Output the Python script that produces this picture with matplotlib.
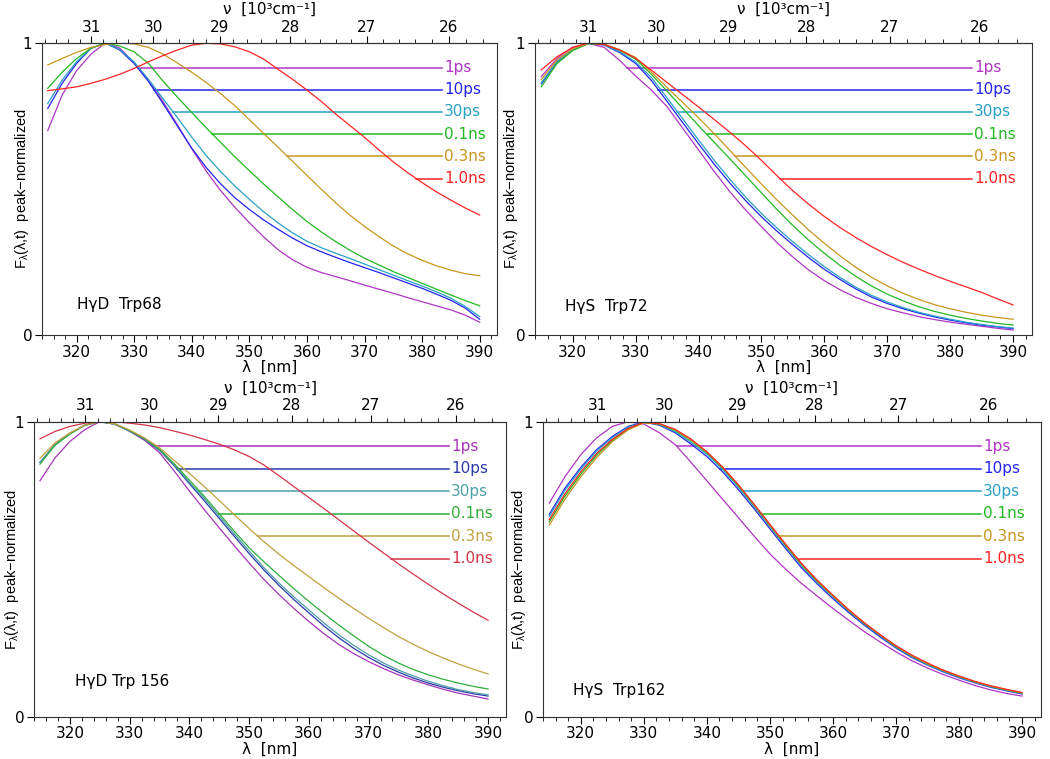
import numpy as np
import matplotlib
matplotlib.use("Agg")
import matplotlib.pyplot as plt
from matplotlib.ticker import MultipleLocator

plt.rcParams['font.family'] = ['DejaVu Sans']
plt.rcParams['mathtext.fontset'] = 'custom'
plt.rcParams['mathtext.rm'] = 'Liberation Sans'
plt.rcParams['mathtext.it'] = 'Liberation Sans:italic'
plt.rcParams['mathtext.default'] = 'regular'
plt.rcParams['font.size'] = 11

# wavelength grid (nm)
wl = [315, 317.5, 320, 322.5, 325, 327.5, 330, 332.5, 335, 337.5, 340, 342.5, 345,
      347.5, 350, 352.5, 355, 357.5, 360, 362.5, 365, 367.5, 370, 372.5, 375, 377.5,
      380, 382.5, 385, 387.5, 390]

times = ["1ps", "10ps", "30ps", "0.1ns", "0.3ns", "1.0ns"]
levels = [0.916, 0.840, 0.765, 0.688, 0.612, 0.536]

# HgD Trp68
p1_1ps = [0.70, 0.822, 0.905, 0.962, 1.0, 0.983, 0.932, 0.873, 0.80, 0.72, 0.638, 0.562, 0.495,
          0.437, 0.385, 0.336, 0.292, 0.258, 0.232, 0.214, 0.2, 0.186, 0.171, 0.157, 0.143, 0.128,
          0.114, 0.1, 0.086, 0.068, 0.044]
p1_10ps = [0.776, 0.862, 0.93, 0.982, 1.0, 0.976, 0.93, 0.868, 0.793, 0.716, 0.64, 0.574, 0.518,
           0.47, 0.43, 0.394, 0.362, 0.332, 0.306, 0.285, 0.266, 0.248, 0.231, 0.214, 0.196, 0.178,
           0.16, 0.14, 0.119, 0.092, 0.054]
p1_30ps = [0.793, 0.873, 0.936, 0.982, 1.0, 0.978, 0.935, 0.875, 0.81, 0.745, 0.678, 0.615, 0.56,
           0.51, 0.465, 0.422, 0.384, 0.35, 0.321, 0.299, 0.28, 0.262, 0.243, 0.224, 0.205, 0.186,
           0.168, 0.148, 0.126, 0.098, 0.063]
p1_01ns = [0.845, 0.90, 0.947, 0.982, 1.0, 0.99, 0.97, 0.93, 0.87, 0.815, 0.762, 0.71, 0.66,
           0.61, 0.563, 0.517, 0.473, 0.43, 0.389, 0.353, 0.32, 0.29, 0.263, 0.24, 0.217, 0.197,
           0.177, 0.157, 0.137, 0.118, 0.10]
p1_03ns = [0.925, 0.947, 0.968, 0.985, 0.995, 1.0, 0.997, 0.985, 0.962, 0.932, 0.90, 0.865, 0.827,
           0.785, 0.738, 0.69, 0.643, 0.595, 0.547, 0.499, 0.453, 0.41, 0.372, 0.337, 0.305, 0.278,
           0.256, 0.237, 0.222, 0.21, 0.203]
p1_10ns = [0.837, 0.843, 0.85, 0.862, 0.876, 0.893, 0.913, 0.936, 0.957, 0.976, 0.993, 0.999, 0.997,
           0.987, 0.97, 0.945, 0.91, 0.876, 0.839, 0.80, 0.757, 0.717, 0.677, 0.634, 0.593, 0.556,
           0.522, 0.49, 0.462, 0.435, 0.411]

# HgS Trp72
p2_1ps = [0.885, 0.947, 0.986, 0.999, 0.985, 0.94, 0.887, 0.839, 0.782, 0.708, 0.634, 0.56, 0.49,
          0.428, 0.371, 0.316, 0.267, 0.223, 0.186, 0.155, 0.129, 0.108, 0.09, 0.076, 0.063, 0.053,
          0.044, 0.037, 0.03, 0.023, 0.017]
p2_10ps = [0.86, 0.935, 0.977, 0.999, 0.993, 0.967, 0.93, 0.872, 0.80, 0.727, 0.655, 0.585, 0.52,
           0.46, 0.405, 0.355, 0.309, 0.265, 0.225, 0.19, 0.158, 0.13, 0.108, 0.09, 0.075, 0.062,
           0.051, 0.042, 0.034, 0.028, 0.022]
p2_30ps = [0.864, 0.937, 0.977, 0.999, 0.994, 0.97, 0.935, 0.882, 0.812, 0.74, 0.668, 0.598, 0.533,
           0.472, 0.416, 0.366, 0.319, 0.275, 0.234, 0.197, 0.164, 0.136, 0.113, 0.094, 0.078, 0.065,
           0.054, 0.044, 0.036, 0.029, 0.024]
p2_01ns = [0.85, 0.93, 0.974, 0.998, 0.995, 0.975, 0.945, 0.893, 0.835, 0.776, 0.717, 0.66, 0.603,
           0.545, 0.487, 0.429, 0.375, 0.325, 0.28, 0.238, 0.201, 0.168, 0.14, 0.117, 0.097, 0.081,
           0.068, 0.057, 0.048, 0.04, 0.034]
p2_03ns = [0.875, 0.942, 0.98, 0.999, 0.996, 0.977, 0.95, 0.90, 0.848, 0.796, 0.744, 0.689, 0.632,
           0.574, 0.517, 0.462, 0.41, 0.36, 0.314, 0.271, 0.232, 0.198, 0.168, 0.143, 0.122, 0.104,
           0.09, 0.078, 0.068, 0.06, 0.054]
p2_10ns = [0.908, 0.953, 0.985, 1.0, 0.995, 0.976, 0.948, 0.907, 0.865, 0.823, 0.781, 0.738, 0.694,
           0.648, 0.598, 0.545, 0.494, 0.448, 0.406, 0.368, 0.334, 0.303, 0.275, 0.249, 0.226, 0.204,
           0.184, 0.165, 0.146, 0.124, 0.103]

# HgD Trp 156
p3_1ps = [0.80, 0.877, 0.933, 0.973, 1.0, 0.992, 0.968, 0.937, 0.895, 0.832, 0.765, 0.702, 0.64,
          0.58, 0.521, 0.465, 0.414, 0.367, 0.323, 0.282, 0.245, 0.214, 0.187, 0.163, 0.142, 0.124,
          0.108, 0.093, 0.08, 0.07, 0.06]
p3_10ps = [0.862, 0.922, 0.96, 0.988, 1.0, 0.992, 0.968, 0.94, 0.903, 0.85, 0.79, 0.732, 0.672,
           0.612, 0.553, 0.497, 0.445, 0.397, 0.352, 0.308, 0.268, 0.232, 0.201, 0.174, 0.151, 0.131,
           0.114, 0.1, 0.088, 0.078, 0.07]
p3_30ps = [0.862, 0.921, 0.96, 0.988, 1.0, 0.992, 0.969, 0.941, 0.905, 0.853, 0.795, 0.74, 0.68,
           0.62, 0.562, 0.505, 0.453, 0.406, 0.362, 0.318, 0.278, 0.242, 0.21, 0.182, 0.158, 0.138,
           0.12, 0.105, 0.092, 0.082, 0.074]
p3_01ns = [0.856, 0.92, 0.958, 0.988, 1.0, 0.993, 0.97, 0.943, 0.907, 0.857, 0.802, 0.747, 0.688,
           0.629, 0.573, 0.525, 0.479, 0.434, 0.391, 0.35, 0.311, 0.274, 0.239, 0.208, 0.182, 0.16,
           0.142, 0.127, 0.114, 0.103, 0.094]
p3_03ns = [0.876, 0.928, 0.962, 0.988, 1.0, 0.993, 0.972, 0.945, 0.912, 0.868, 0.825, 0.78, 0.733,
           0.685, 0.638, 0.593, 0.551, 0.512, 0.475, 0.438, 0.402, 0.367, 0.334, 0.302, 0.272, 0.245,
           0.221, 0.199, 0.179, 0.161, 0.145]
p3_10ns = [0.942, 0.967, 0.984, 0.995, 0.999, 1.0, 0.995, 0.989, 0.98, 0.968, 0.955, 0.94, 0.924,
           0.905, 0.882, 0.853, 0.817, 0.78, 0.743, 0.706, 0.668, 0.63, 0.592, 0.555, 0.518, 0.483,
           0.449, 0.416, 0.385, 0.355, 0.327]

# HgS Trp162
p4_1ps = [0.724, 0.814, 0.888, 0.945, 0.984, 1.0, 0.992, 0.962, 0.922, 0.862, 0.80, 0.737, 0.675,
          0.612, 0.552, 0.50, 0.452, 0.409, 0.367, 0.327, 0.288, 0.253, 0.22, 0.19, 0.165, 0.143,
          0.124, 0.106, 0.091, 0.079, 0.07]
p4_10ps = [0.686, 0.775, 0.845, 0.905, 0.95, 0.984, 0.999, 0.988, 0.962, 0.924, 0.882, 0.83, 0.77,
           0.705, 0.637, 0.57, 0.505, 0.45, 0.40, 0.353, 0.31, 0.27, 0.233, 0.201, 0.175, 0.152,
           0.132, 0.115, 0.10, 0.088, 0.077]
p4_30ps = [0.679, 0.768, 0.839, 0.90, 0.946, 0.981, 0.998, 0.99, 0.966, 0.93, 0.89, 0.838, 0.778,
           0.712, 0.644, 0.577, 0.512, 0.456, 0.406, 0.358, 0.314, 0.274, 0.236, 0.204, 0.177, 0.154,
           0.134, 0.117, 0.102, 0.09, 0.079]
p4_01ns = [0.66, 0.748, 0.822, 0.886, 0.937, 0.975, 0.997, 0.992, 0.97, 0.936, 0.895, 0.843, 0.783,
           0.717, 0.648, 0.581, 0.516, 0.459, 0.409, 0.36, 0.316, 0.276, 0.238, 0.206, 0.179, 0.156,
           0.136, 0.118, 0.103, 0.091, 0.08]
p4_03ns = [0.649, 0.738, 0.813, 0.878, 0.932, 0.972, 0.996, 0.993, 0.972, 0.938, 0.897, 0.845, 0.785,
           0.719, 0.65, 0.583, 0.518, 0.461, 0.41, 0.361, 0.317, 0.277, 0.239, 0.207, 0.18, 0.157,
           0.137, 0.119, 0.104, 0.092, 0.081]
p4_10ns = [0.668, 0.756, 0.83, 0.892, 0.94, 0.977, 0.998, 0.993, 0.974, 0.941, 0.898, 0.846, 0.786,
           0.72, 0.652, 0.585, 0.52, 0.463, 0.412, 0.363, 0.318, 0.278, 0.241, 0.209, 0.182, 0.158,
           0.138, 0.12, 0.105, 0.093, 0.082]

colors = ["#b035c4", "#2424f0", "#2aa0c4", "#22b822", "#c8961e", "#ff2424"]
colors_p3 = ["#a635b8", "#2a3aaa", "#4e9ea6", "#2eae3a", "#c0a040", "#d23448"]

# axes rect, curves, name, name position, ylabel offset (px left of spine),
# top label height (px from figure top), colours
panels = [
    ([0.040, 0.5586, 0.4333, 0.3847], [p1_1ps, p1_10ps, p1_30ps, p1_01ns, p1_03ns, p1_10ns],
     "H\u03b3D  Trp68", 320.0, 0.106, 11, 9, colors),
    ([0.5095, 0.5586, 0.4733, 0.3847], [p2_1ps, p2_10ps, p2_30ps, p2_01ns, p2_03ns, p2_10ns],
     "H\u03b3S  Trp72", 318.8, 0.097, 15, 9, colors),
    ([0.0324, 0.0557, 0.4495, 0.3887], [p3_1ps, p3_10ps, p3_30ps, p3_01ns, p3_03ns, p3_10ns],
     "H\u03b3D Trp 156", 320.8, 0.119, 13, 388, colors_p3),
    ([0.5171, 0.0557, 0.4743, 0.3887], [p4_1ps, p4_10ps, p4_30ps, p4_01ns, p4_03ns, p4_10ns],
     "H\u03b3S  Trp162", 318.8, 0.09, 15, 388, colors),
]

fig = plt.figure(figsize=(10.5, 7.59), dpi=100)
x = np.array(wl)

for rect, curves, name, nx, ny, yoff, ty, cols in panels:
    ax = fig.add_axes(rect)
    for y, c, lev, lab in zip(curves, cols, levels, times):
        y = np.array(y)
        ax.plot(x, y, color=c, lw=0.9)
        # start of the label line: where the curve falls through the level
        k = int(np.argmax(y))
        x0 = np.interp(lev, y[k:][::-1], x[k:][::-1])
        ax.plot([x0, 383.5], [lev, lev], color=c, lw=1.1)
        ax.text(383.8, lev, lab, color=c, fontsize=11, ha='left', va='center')
    ax.text(nx, ny, name, fontsize=11, ha='left', va='center')

    ax.set_xlim(314, 393)
    ax.set_ylim(0, 1)
    ax.set_xticks([320, 330, 340, 350, 360, 370, 380, 390])
    ax.xaxis.set_minor_locator(MultipleLocator(2))
    ax.set_yticks([0, 1])
    ax.set_yticklabels(["0", "1"])
    ax.tick_params(axis='both', which='major', direction='out', length=5, pad=2, labelsize=11)
    ax.tick_params(axis='x', which='minor', direction='out', length=3)
    for s in ax.spines.values():
        s.set_color('#333333')
        s.set_linewidth(0.8)
    ax.set_xlabel("\u03bb  [nm]", fontsize=11, labelpad=0)
    ax.set_ylabel("F$_\u03bb$(\u03bb,t)  peak\u2212normalized", fontsize=10.5,
                  family=['Liberation Sans', 'DejaVu Sans'])
    ax.yaxis.set_label_coords(-yoff / (rect[2] * 1050), 0.5)

    sec = ax.secondary_xaxis('top', functions=(lambda v: 1e4 / v, lambda v: 1e4 / v))
    sec.set_xticks([26, 27, 28, 29, 30, 31])
    sec.set_xticklabels(["26", "27", "28", "29", "30", "31"])
    sec.xaxis.set_minor_locator(MultipleLocator(0.2))
    sec.tick_params(axis='x', which='major', direction='out', length=5, pad=1, labelsize=11)
    sec.tick_params(axis='x', which='minor', direction='out', length=3)
    sec.spines['top'].set_color('#333333')
    fig.text(rect[0] + rect[2] / 2, 1 - ty / 759, "\u03bd  [10\u00b3cm\u207b\u00b9]",
             fontsize=11, ha='center', va='center')

fig.savefig("out.png", dpi=100)
